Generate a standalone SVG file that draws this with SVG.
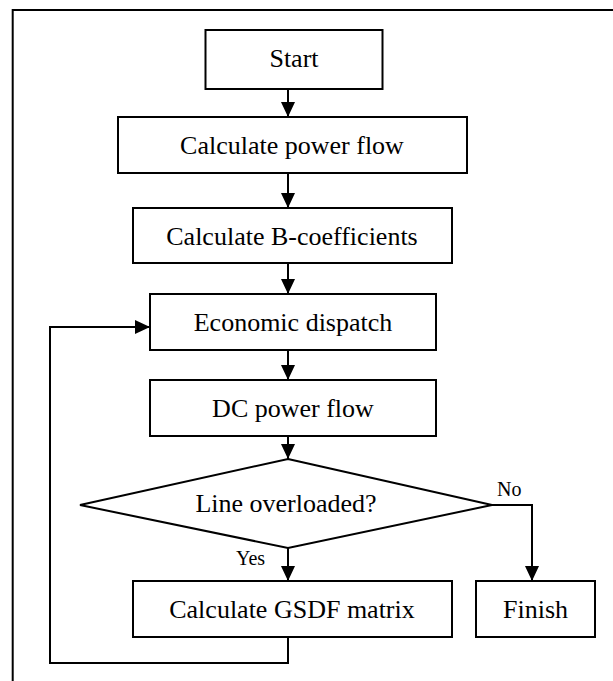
<svg xmlns="http://www.w3.org/2000/svg" width="613" height="681" viewBox="0 0 613 681">
<style>
.box{fill:#fff;stroke:#000;stroke-width:2}
.t{font-family:"Liberation Serif","Times New Roman",serif;font-size:26px;fill:#000;text-anchor:middle}
.lbl{font-family:"Liberation Serif","Times New Roman",serif;font-size:20px;fill:#000}
.c{fill:none;stroke:#000;stroke-width:2}
</style>
<defs>
<marker id="ah" markerUnits="userSpaceOnUse" markerWidth="15" markerHeight="14" refX="15" refY="7" orient="auto">
<path d="M0,0 L15,7 L0,14 z" fill="#000"/>
</marker>
</defs>
<rect width="613" height="681" fill="#fff"/>
<path d="M12.7,690 V10 H620" fill="none" stroke="#000" stroke-width="2"/>
<g id="connectors">
<line class="c" x1="288" y1="89" x2="288" y2="117" marker-end="url(#ah)"/>
<line class="c" x1="288" y1="173" x2="288" y2="208" marker-end="url(#ah)"/>
<line class="c" x1="288" y1="263" x2="288" y2="294" marker-end="url(#ah)"/>
<line class="c" x1="288" y1="350" x2="288" y2="380" marker-end="url(#ah)"/>
<line class="c" x1="288" y1="436" x2="288" y2="459" marker-end="url(#ah)"/>
<line class="c" x1="288" y1="548" x2="288" y2="581" marker-end="url(#ah)"/>
<polyline class="c" points="492,505 532,505 532,581" marker-end="url(#ah)"/>
<polyline class="c" points="288,637 288,663 50,663 50,327 150,327" marker-end="url(#ah)"/>
<text class="lbl" x="236" y="565">Yes</text>
<text class="lbl" x="497" y="496">No</text>
</g>
<g id="start">
<rect class="box" x="205.5" y="30" width="177" height="59"/>
<text class="t" x="294" y="67">Start</text>
</g>
<g id="power-flow">
<rect class="box" x="118" y="117" width="349" height="56"/>
<text class="t" x="292" y="154">Calculate power flow</text>
</g>
<g id="b-coeff">
<rect class="box" x="133" y="208" width="319" height="55"/>
<text class="t" x="292" y="245">Calculate B-coefficients</text>
</g>
<g id="econ-dispatch">
<rect class="box" x="150" y="294" width="286" height="56"/>
<text class="t" x="293" y="331">Economic dispatch</text>
</g>
<g id="dc-flow">
<rect class="box" x="150" y="380" width="286" height="56"/>
<text class="t" x="293" y="417">DC power flow</text>
</g>
<g id="overload">
<polygon class="box" points="288,459 492,505 288,548 80,505"/>
<text class="t" x="286" y="512">Line overloaded?</text>
</g>
<g id="gsdf">
<rect class="box" x="133" y="581" width="319" height="56"/>
<text class="t" x="292" y="618">Calculate GSDF matrix</text>
</g>
<g id="finish">
<rect class="box" x="476" y="581" width="119" height="56"/>
<text class="t" x="535.5" y="618">Finish</text>
</g>
</svg>
